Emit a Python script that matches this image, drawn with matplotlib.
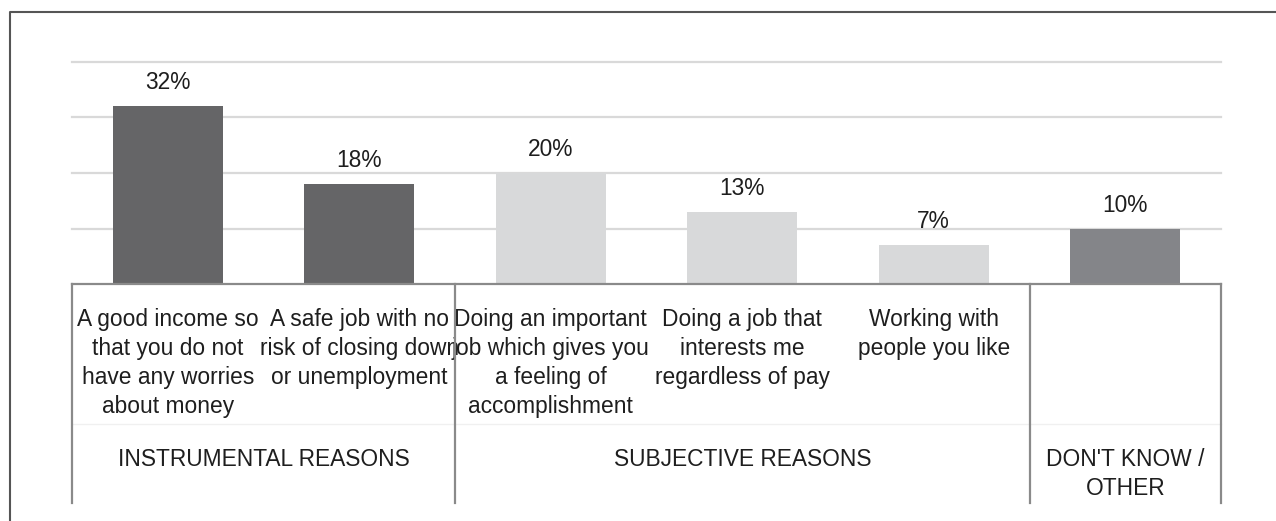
import matplotlib
matplotlib.use("Agg")
import matplotlib.pyplot as plt
import matplotlib.transforms as mtransforms
from matplotlib import font_manager as fm
import numpy as np

# --- data ---------------------------------------------------------------
categories = [
    "A good income so\nthat you do not\nhave any worries\nabout money",
    "A safe job with no\nrisk of closing down\nor unemployment",
    "Doing an important\njob which gives you\na feeling of\naccomplishment",
    "Doing a job that\ninterests me\nregardless of pay",
    "Working with\npeople you like",
    "",
]
values = [32, 18, 20, 13, 7, 10]
value_labels = ["32%", "18%", "20%", "13%", "7%", "10%"]
groups = ["INSTRUMENTAL REASONS", "SUBJECTIVE REASONS", "DON'T KNOW /\nOTHER"]
group_sizes = [2, 3, 1]
group_colors = ["#656567", "#d8d9da", "#848589"]
gridline_values = [10, 20, 30, 40]

# --- fonts --------------------------------------------------------------
try:
    fm.findfont(fm.FontProperties(family="Liberation Sans Narrow"),
                fallback_to_default=False)
    FAMILY, FS = "Liberation Sans Narrow", 18.8
except ValueError:
    FAMILY, FS = "Liberation Sans", 16.4
plt.rcParams["font.family"] = [FAMILY, "DejaVu Sans"]
TEXT = "#1e1e1e"

# --- figure & axes (pixel layout) ---------------------------------------
W, H = 1276, 521
fig = plt.figure(figsize=(W / 100, H / 100), dpi=100)
fig.patch.set_facecolor("white")

base_px, top_px = 284, 62
left_px, right_px = 72, 1221
ax = fig.add_axes([left_px / W, 1 - base_px / H,
                   (right_px - left_px) / W, (base_px - top_px) / H])

n = len(values)
x = np.arange(n)
bar_colors = [c for c, k in zip(group_colors, group_sizes) for _ in range(k)]

ax.set_xlim(-0.5, n - 0.5)
ax.set_ylim(0, gridline_values[-1])
for gv in gridline_values:
    ax.axhline(gv, color="#d9d9d9", lw=1.6, zorder=1, clip_on=False)

bars = ax.bar(x, values, width=0.575, color=bar_colors, zorder=3)

for spine in ["left", "right", "top"]:
    ax.spines[spine].set_visible(False)
ax.spines["bottom"].set_color("#8a8a8a")
ax.spines["bottom"].set_linewidth(1.6)
ax.spines["bottom"].set_zorder(4)
ax.set_xticks([])
ax.set_yticks([])

# value labels above bars
for rect, lab in zip(bars, value_labels):
    ax.annotate(lab, (rect.get_x() + rect.get_width() / 2, rect.get_height()),
                xytext=(0, 17), textcoords="offset pixels",
                ha="center", va="baseline", fontsize=FS, color=TEXT)

# --- category axis: boxes and labels ------------------------------------
blend = mtransforms.blended_transform_factory(ax.transData, fig.transFigure)


def fy(py):
    return 1 - py / H


line_step = 29
bounds = np.concatenate([[0], np.cumsum(group_sizes)]) - 0.5
for b in bounds:
    ax.plot([b, b], [fy(base_px), fy(503)], transform=blend,
            color="#8a8a8a", lw=1.6, clip_on=False, zorder=4)
ax.plot([bounds[0], bounds[-1]], [fy(424), fy(424)], transform=blend,
        color="#f0f0f0", lw=1.0, clip_on=False, zorder=2)

for xi, cat in zip(x, categories):
    for i, ln in enumerate(cat.split("\n")):
        if ln:
            ax.text(xi, fy(326 + i * line_step), ln, transform=blend,
                    ha="center", va="baseline", fontsize=FS, color=TEXT)

for g, lo, hi in zip(groups, bounds[:-1], bounds[1:]):
    for i, ln in enumerate(g.split("\n")):
        ax.text((lo + hi) / 2, fy(466 + i * line_step), ln, transform=blend,
                ha="center", va="baseline", fontsize=FS, color=TEXT)

# outer frame (left and top edges)
fig.add_artist(plt.Line2D([10 / W, 10 / W, 1.0], [0.0, fy(12), fy(12)],
                          transform=fig.transFigure, color="#555555", lw=1.5))

fig.savefig("out.png", dpi=100, facecolor="white")
